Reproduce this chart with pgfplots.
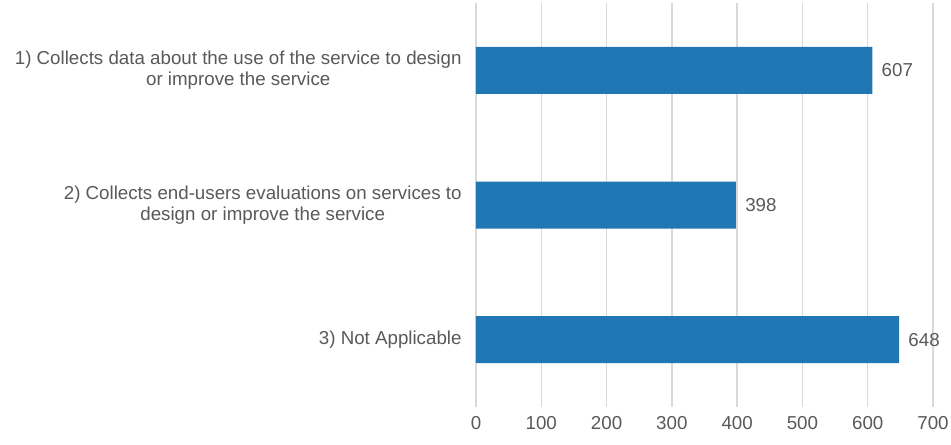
\documentclass[border=0pt]{standalone}
\usepackage{pgfplots}
\pgfplotsset{compat=1.18}
\usepackage{fontspec}
\setmainfont{Liberation Sans}
\definecolor{barblue}{HTML}{2077B4}
\definecolor{txtgray}{HTML}{595959}
\definecolor{gridgray}{HTML}{D9D9D9}
\begin{document}
\begin{tikzpicture}
\fontsize{18.8}{21.5}\selectfont
\begin{axis}[
  name=ax,
  at={(0,0)}, anchor=south west,
  scale only axis,
  width=457bp, height=404bp,
  xbar, bar width=47bp,
  xmin=0, xmax=700,
  ymin=-0.5, ymax=2.5, y dir=reverse,
  xtick={0,100,...,700},
  ytick={0,1,2},
  yticklabels={{1) Collects data about the use of the service to design\\or improve the service},
               {2) Collects end-users evaluations on services to\\design or improve the service},
               {3) Not Applicable}},
  yticklabel style={align=center, text=txtgray, font=\fontsize{18.8}{21.5}\selectfont, xshift=-8bp},
  xticklabel style={text=txtgray, font=\fontsize{18.8}{21.5}\selectfont, yshift=-3bp},
  /pgf/number format/assume math mode=true,
  xmajorgrids, major grid style={draw=gridgray, line width=1.3bp},
  axis line style={draw=none},
  major tick length=0pt,
  nodes near coords,
  nodes near coords style={text=txtgray, font=\fontsize{18.8}{21.5}\selectfont, xshift=3bp},
  every node near coord/.append style={anchor=west},
]
\addplot[fill=barblue, draw=none] coordinates {(607,0) (398,1) (648,2)};
\end{axis}
\pgfresetboundingbox
\path (ax.south west) ++(-476bp,-38bp) coordinate (bl);
\path (ax.south west) ++(475bp,407bp) coordinate (tr);
\path[use as bounding box] (bl) rectangle (tr);
\end{tikzpicture}
\end{document}
